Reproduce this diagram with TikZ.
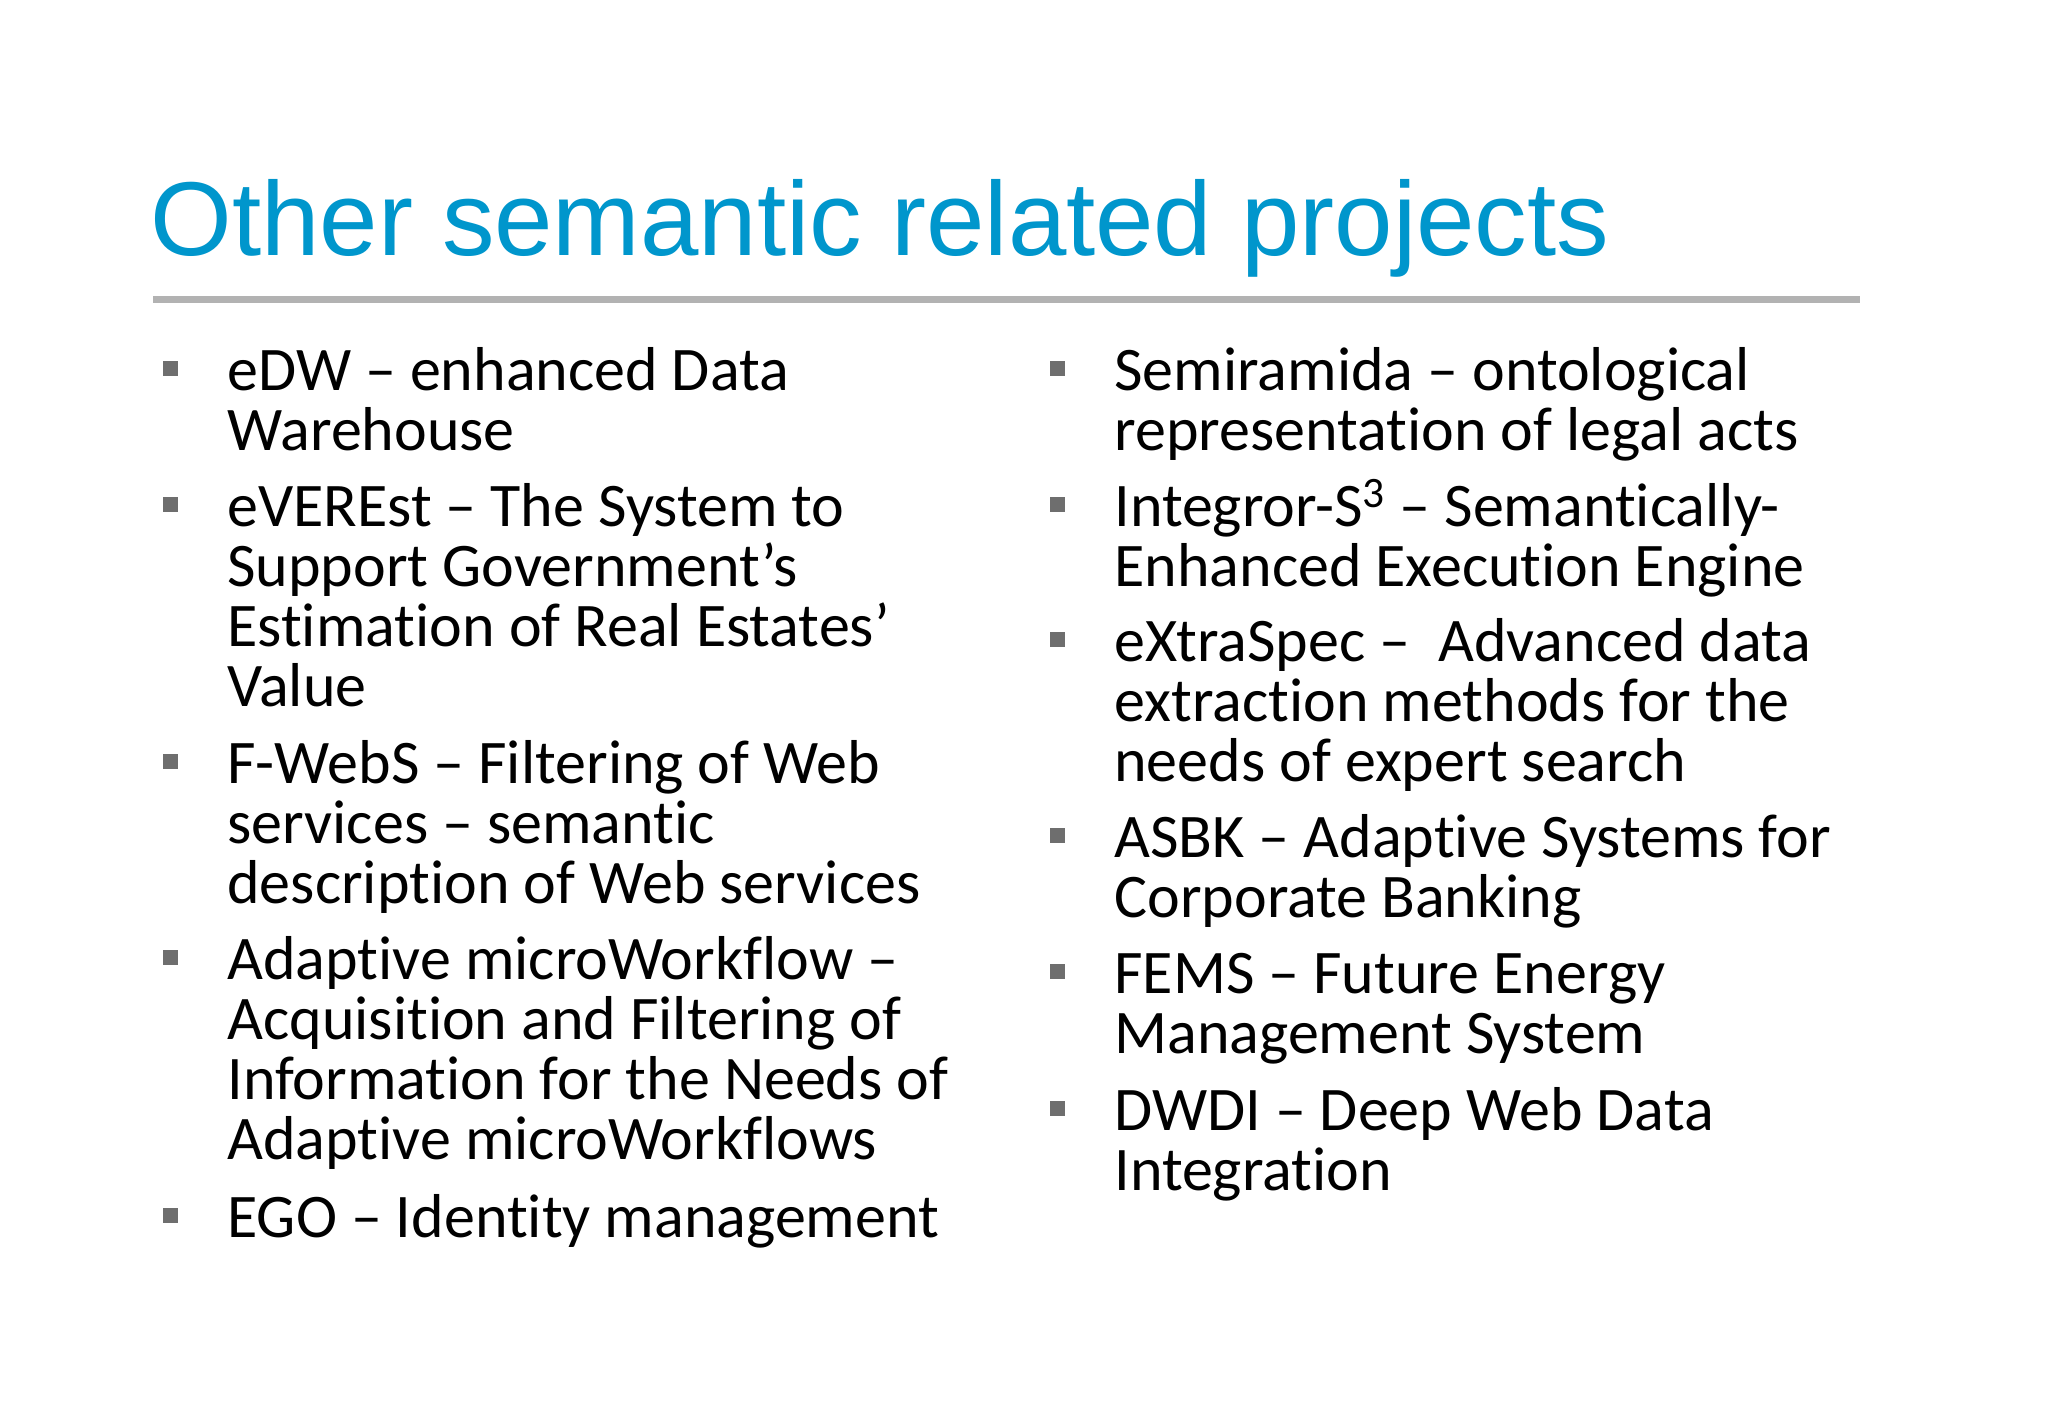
\documentclass[tikz,border=0pt]{standalone}
\usepackage{fontspec}
\setmainfont[Ligatures=NoCommon]{Carlito}
\newfontfamily\titlefont{Liberation Sans}
\definecolor{titleblue}{RGB}{0,150,204}
\definecolor{rulegray}{RGB}{178,178,178}
\definecolor{bulletgray}{RGB}{110,110,110}
\begin{document}
\begin{tikzpicture}[x=0.5pt,y=-0.5pt,
  ln/.style={anchor=base west,inner sep=0,font=\fontsize{31}{36}\selectfont},
  bul/.style={fill=bulletgray,minimum size=7.5pt,inner sep=0}]
\useasboundingbox[fill=white] (0,0) rectangle (2048,1418);
\node[anchor=base west,inner sep=0,text=titleblue,font=\titlefont\fontsize{52.5}{60}\selectfont] (title) at (150,255) {Other semantic related projects};
\coordinate (r1) at (153,299); \coordinate (r2) at (1860,299);
\draw[rulegray,line width=3.5pt] (r1) -- (r2);
% left column
\foreach \y/\t [count=\i] in {
 390/{eDW – enhanced Data}, 450/{Warehouse},
 526/{eVEREst – The System to}, 586/{Support Government’s}, 646/{Estimation of Real Estates’}, 706/{Value},
 783/{F-WebS – Filtering of Web}, 843/{services – semantic}, 903/{description of Web services},
 979/{Adaptive microWorkflow –}, 1039/{Acquisition and Filtering of}, 1099/{Information for the Needs of}, 1159/{Adaptive microWorkflows},
 1237/{EGO – Identity management}}
 \node[ln] (L\i) at (227,\y) {\t};
\foreach \y [count=\i] in {390,526,783,979,1237}
 \node[bul] (LB\i) at (170,\y-22) {};
% right column
\foreach \y/\t [count=\i] in {
 390/{Semiramida – ontological}, 450/{representation of legal acts},
 526/{Integror-S\textsuperscript{3} – Semantically-}, 586/{Enhanced Execution Engine},
 661/{eXtraSpec –\ \ Advanced data}, 721/{extraction methods for the}, 781/{needs of expert search},
 857/{ASBK – Adaptive Systems for}, 917/{Corporate Banking},
 993/{FEMS – Future Energy}, 1053/{Management System},
 1130/{DWDI – Deep Web Data}, 1190/{Integration}}
 \node[ln] (R\i) at (1114,\y) {\t};
\foreach \y [count=\i] in {390,526,661,857,993,1130}
 \node[bul] (RB\i) at (1057,\y-22) {};
\end{tikzpicture}
\end{document}
